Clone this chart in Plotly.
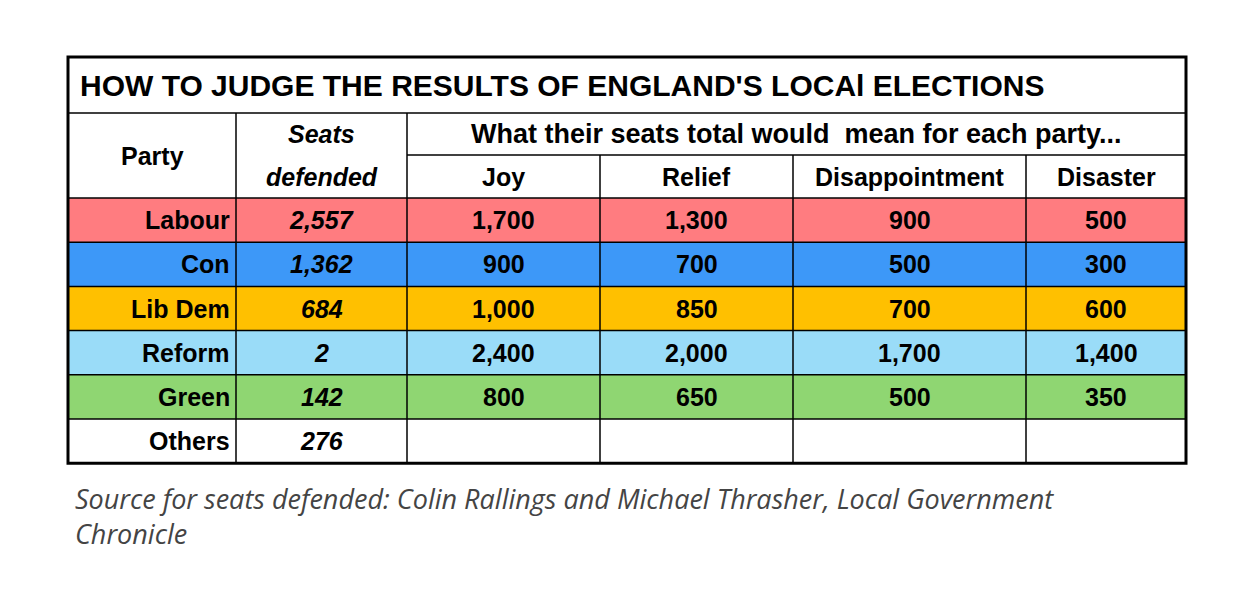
import plotly.graph_objects as go

title = "HOW TO JUDGE THE RESULTS OF ENGLAND'S LOCAl ELECTIONS"
parties = ["Labour", "Con", "Lib Dem", "Reform", "Green", "Others"]
seats = ["2,557", "1,362", "684", "2", "142", "276"]
outcomes = ["Joy", "Relief", "Disappointment", "Disaster"]
joy = ["1,700", "900", "1,000", "2,400", "800", ""]
relief = ["1,300", "700", "850", "2,000", "650", ""]
disap = ["900", "500", "700", "1,700", "500", ""]
disaster = ["500", "300", "600", "1,400", "350", ""]
row_colors = ["#FF7C80", "#3D98F8", "#FFC000", "#9ADCF8", "#8FD672", "#FFFFFF"]
source = "Source for seats defended: Colin Rallings and Michael Thrasher, Local Government<br>Chronicle"

cols = [68, 236, 407, 600, 793, 1026, 1186]
y_top, y_title, y_h1, y_h2 = 57, 113, 155, 198
row_h = 44.2
FONT = "Liberation Sans"
CS = 25

shapes, ann = [], []
def line(x0, y0, x1, y1, w=1.5):
    shapes.append(dict(type="line", x0=x0, y0=y0, x1=x1, y1=y1, line=dict(color="black", width=w)))
def text(x, y, t, size=CS, anchor="center", italic=False, color="black", bold=True, font=FONT):
    if bold: t = "<b>" + t + "</b>"
    if italic: t = "<i>" + t + "</i>"
    ann.append(dict(x=x, y=y, text=t, showarrow=False, xanchor=anchor, yanchor="middle",
                    font=dict(family=font, size=size, color=color)))

values = [joy, relief, disap, disaster]
for i, p in enumerate(parties):
    y0 = y_h2 + i * row_h
    y1 = y0 + row_h
    shapes.append(dict(type="rect", x0=cols[0], x1=cols[-1], y0=y0, y1=y1, fillcolor=row_colors[i], line_width=0, layer="below"))
    ym = (y0 + y1) / 2
    text(cols[1] - 4, ym, p, anchor="right")
    text((cols[1] + cols[2]) / 2, ym, seats[i], italic=True)
    for j, v in enumerate(values):
        if v[i]:
            text((cols[j + 2] + cols[j + 3]) / 2, ym, v[i])
    line(cols[0], y1, cols[-1], y1)

y_bot = y_h2 + len(parties) * row_h
text(78, (y_top + y_title) / 2, title, size=30, anchor="left")
text((cols[0] + cols[1]) / 2, (y_title + y_h2) / 2, "Party")
text((cols[1] + cols[2]) / 2, (y_title + y_h1) / 2, "Seats", italic=True)
text((cols[1] + cols[2]) / 2, (y_h1 + y_h2) / 2, "defended", italic=True)
text((cols[2] + cols[-1]) / 2, (y_title + y_h1) / 2, "What their seats total would  mean for each party...", size=27)
for j, o in enumerate(outcomes):
    text((cols[j + 2] + cols[j + 3]) / 2, (y_h1 + y_h2) / 2, o)

line(cols[0], y_title, cols[-1], y_title)
line(cols[2], y_h1, cols[-1], y_h1)
line(cols[0], y_h2, cols[-1], y_h2)
line(cols[1], y_title, cols[1], y_bot)
line(cols[2], y_title, cols[2], y_bot)
for c in cols[3:-1]:
    line(c, y_h1, c, y_bot)
shapes.append(dict(type="rect", x0=cols[0], x1=cols[-1], y0=y_top, y1=y_bot, line=dict(color="black", width=3)))

ann.append(dict(x=73, y=478, text="<i>" + source + "</i>", showarrow=False, xanchor="left", yanchor="top",
                align="left", font=dict(family="Open Sans", size=27, color="#444444")))

fig = go.Figure(go.Scatter(x=[0], y=[0], mode="markers", marker=dict(opacity=0), hoverinfo="skip"))
fig.update_layout(width=1256, height=600, margin=dict(l=0, r=0, t=0, b=0),
                  paper_bgcolor="white", plot_bgcolor="white", showlegend=False,
                  shapes=shapes, annotations=ann,
                  xaxis=dict(range=[8, 1264], visible=False, fixedrange=True),
                  yaxis=dict(range=[608, 8], visible=False, fixedrange=True))
fig.write_html("out.html")
